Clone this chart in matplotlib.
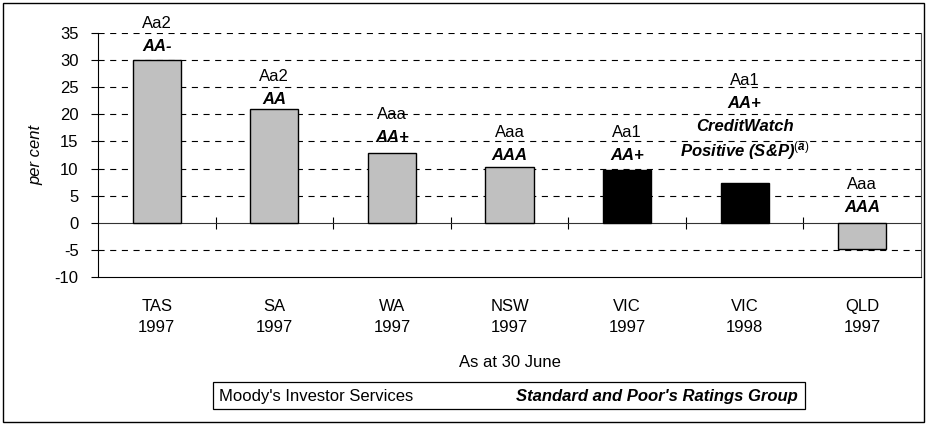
import matplotlib
matplotlib.use("Agg")
import matplotlib.pyplot as plt
from matplotlib.patches import Rectangle

plt.rcParams['font.family'] = ['Liberation Sans', 'DejaVu Sans']
plt.rcParams['mathtext.fontset'] = 'custom'
plt.rcParams['mathtext.it'] = 'Liberation Sans:bold:italic'
plt.rcParams['mathtext.rm'] = 'Liberation Sans'

states = ["TAS", "SA", "WA", "NSW", "VIC", "VIC", "QLD"]
years = ["1997", "1997", "1997", "1997", "1997", "1998", "1997"]
values = [30.0, 21.0, 12.9, 10.3, 9.8, 7.4, -4.8]
moodys = ["Aa2", "Aa2", "Aaa", "Aaa", "Aa1", "Aa1", "Aaa"]
sp = [["AA-"], ["AA"], ["AA+"], ["AAA"], ["AA+"],
      ["AA+", "CreditWatch", "Positive (S&P)$^{\\mathit{(a)}}$"], ["AAA"]]
bar_colors = ["#c0c0c0", "#c0c0c0", "#c0c0c0", "#c0c0c0", "#000000", "#000000", "#c0c0c0"]
yticks = [-10, -5, 0, 5, 10, 15, 20, 25, 30, 35]

# centre of lowest label line above bar top (pixels)
label_gap = [15, 11, 17, 13, 16, 35, 17]
line_step = 23
FS = 12

W, H = 930, 425
fig = plt.figure(figsize=(W / 100, H / 100), dpi=100)
ax = fig.add_axes([98 / W, 1 - 277 / H, (921 - 98) / W, (277 - 33) / H])

x = list(range(len(states)))
ax.bar(x, values, width=0.41, color=bar_colors, edgecolor="black", linewidth=1.0, zorder=3)

ax.set_xlim(-0.5, len(states) - 0.5)
ax.set_ylim(-10, 35)
ax.set_yticks(yticks)
ax.set_yticklabels([str(v) for v in yticks], fontsize=FS)
ax.tick_params(axis='y', direction='out', length=5, width=0.8, pad=9)
dash = (0, (5.5, 5.0))
for v in yticks:
    if v not in (0, -10):
        ax.axhline(v, color="black", linestyle=dash, linewidth=0.8, zorder=1)

ax.set_xticks(x)
ax.set_xticklabels([f"{s}\n{y}" for s, y in zip(states, years)], fontsize=FS, linespacing=1.5)
ax.tick_params(axis='x', length=0, pad=16)
ax.set_xlabel("As at 30 June", fontsize=FS, labelpad=14)
ax.set_ylabel("per cent", fontsize=FS, style="italic", labelpad=8)

for s in ["left", "right", "bottom"]:
    ax.spines[s].set_color("black")
    ax.spines[s].set_linewidth(0.8)
ax.spines["right"].set_color("#555555")
ax.spines["top"].set_visible(False)

# zero line with category separators
sec = ax.secondary_xaxis(10 / 45)
sec.set_xticks([i + 0.5 for i in range(len(states) - 1)])
sec.set_xticklabels([])
sec.tick_params(direction='inout', length=9, width=0.8)
sec.spines["bottom"].set_linewidth(0.8)
sec.spines["bottom"].set_color("#333333")

for i, v in enumerate(values):
    base = max(v, 0)
    lines = [(moodys[i], False)] + [(s, True) for s in sp[i]]
    n = len(lines)
    for k, (txt, bold) in enumerate(lines):
        off = label_gap[i] + line_step * (n - 1 - k)
        ax.annotate(txt, (i, base), xytext=(0, off), textcoords="offset pixels",
                    ha="center", va="center_baseline", fontsize=FS,
                    fontweight="bold" if bold else "normal",
                    style="italic" if bold else "normal", zorder=4)

# legend box
fig.patches.append(Rectangle((213 / W, 1 - 409 / H), (805 - 213) / W, 27 / H,
                             transform=fig.transFigure, fill=False, edgecolor="black", linewidth=0.9))
fig.text(219 / W, 1 - 396 / H, "Moody's Investor Services", fontsize=FS, va="center", ha="left")
fig.text(798 / W, 1 - 396 / H, "Standard and Poor's Ratings Group", fontsize=FS, va="center",
         ha="right", fontweight="bold", style="italic")

# figure border
fig.patches.append(Rectangle((3 / W, 3 / H), (924 - 3) / W, (422 - 3) / H,
                             transform=fig.transFigure, fill=False, edgecolor="black", linewidth=1.0))

fig.savefig("out.png", dpi=100)
